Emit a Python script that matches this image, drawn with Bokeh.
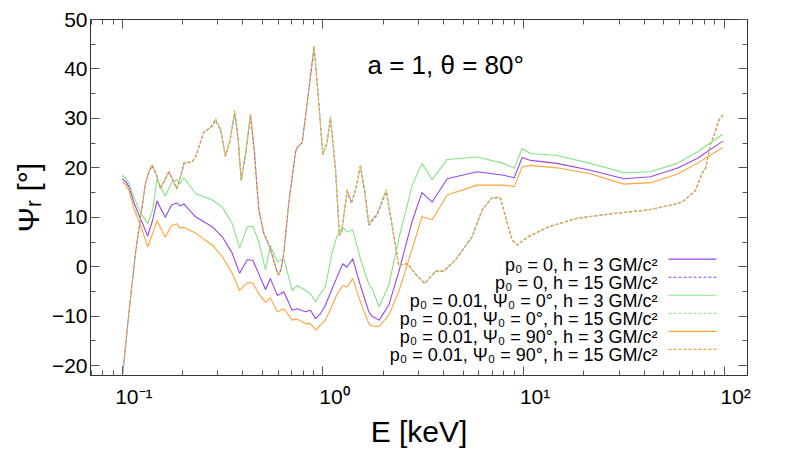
from bokeh.plotting import figure
from bokeh.models import Range1d, LogAxis, LinearAxis, FixedTicker, Label, CustomJSTickFormatter
from bokeh.embed import file_html
from bokeh.resources import INLINE

# ---------------- data ----------------
# h = 15 GM/c^2 curves (dashed), nearly identical for the three polarisation cases
E_h15 = [0.100, 0.104, 0.108, 0.1165, 0.123, 0.1306, 0.136, 0.141, 0.148, 0.155, 0.163, 0.171,
         0.179, 0.187, 0.195, 0.203, 0.223, 0.232, 0.255, 0.270, 0.282, 0.292, 0.310, 0.327,
         0.345, 0.364, 0.378, 0.392, 0.413, 0.436, 0.457, 0.470, 0.480, 0.508, 0.548, 0.581,
         0.600, 0.620, 0.640, 0.677, 0.731, 0.745, 0.789, 0.836, 0.905, 0.955, 1.000, 1.050,
         1.092, 1.157, 1.211, 1.240, 1.323, 1.390, 1.460, 1.540, 1.620, 1.695, 1.867, 2.070,
         2.200, 2.390, 2.640, 2.900, 3.220, 3.650, 4.010, 4.590, 5.560, 6.230, 6.990, 7.690,
         8.140, 8.790, 9.310, 10.60, 13.40, 18.50, 28.80, 42.20, 56.20, 62.00, 72.00, 77.80,
         81.00, 85.70, 89.00, 94.20, 98.60]
psi_p0_h15 = [-22.5, -16.0, -9.3, 2.8, 9.5, 16.8, 19.2, 20.4, 18.6, 15.8, 17.5, 19.1,
              17.5, 15.8, 18.0, 20.8, 21.2, 22.2, 27.2, 27.9, 28.5, 29.6, 27.5, 22.3,
              25.5, 31.0, 26.0, 17.4, 23.0, 30.5, 22.9, 16.0, 11.5, 6.8, 3.6, 0.0,
              -1.7, -0.5, 3.0, 13.0, 23.1, 24.1, 25.1, 33.1, 44.4, 33.1, 22.7, 25.0,
              30.0, 19.7, 6.3, 7.0, 15.2, 12.8, 15.5, 20.2, 15.0, 8.4, 10.5, 15.2,
              9.0, 0.3, 0.6, -1.5, -3.4, -0.9, -0.9, 1.4, 6.1, 11.5, 14.0, 13.8,
              10.1, 5.4, 4.4, 6.1, 8.1, 9.8, 10.8, 11.5, 12.6, 13.1, 15.4, 18.9,
              20.0, 24.9, 26.4, 29.6, 30.6]
psi_psi0_h15 = [-22.5, -16.0, -9.3, 2.8, 9.5, 16.8, 19.3, 20.5, 18.7, 15.8, 17.6, 19.2,
                17.6, 15.8, 18.1, 20.9, 21.2, 22.2, 27.2, 27.9, 28.6, 29.7, 27.6, 22.3,
                25.6, 31.2, 26.1, 17.5, 23.1, 30.7, 22.9, 16.0, 11.5, 6.8, 3.6, 0.0,
                -1.7, -0.5, 3.0, 13.0, 23.1, 24.1, 25.1, 33.1, 44.5, 33.1, 22.7, 25.1,
                30.1, 19.7, 6.3, 7.0, 15.4, 13.0, 15.7, 20.4, 15.2, 8.7, 10.7, 15.4,
                9.1, 0.3, 0.6, -1.5, -3.3, -0.9, -0.9, 1.4, 6.1, 11.5, 14.0, 13.8,
                10.1, 5.4, 4.4, 6.1, 8.1, 9.8, 10.8, 11.5, 12.6, 13.1, 15.4, 18.9,
                20.0, 24.9, 26.4, 29.6, 30.7]
psi_psi90_h15 = [-22.5, -16.0, -9.3, 2.8, 9.5, 16.8, 19.4, 20.7, 18.8, 15.8, 17.7, 19.4,
                 17.7, 15.8, 18.2, 21.1, 21.2, 22.2, 27.2, 27.9, 28.8, 30.0, 27.8, 22.3,
                 25.8, 31.6, 26.3, 17.5, 23.3, 31.0, 22.9, 16.0, 11.5, 6.8, 3.6, 0.0,
                 -1.7, -0.5, 3.0, 13.0, 23.1, 24.1, 25.1, 33.1, 44.7, 33.1, 22.7, 25.2,
                 30.3, 19.7, 6.3, 7.0, 15.6, 13.0, 15.8, 20.6, 15.3, 8.8, 10.8, 15.6,
                 9.2, 0.3, 0.6, -1.5, -3.3, -0.9, -0.9, 1.4, 6.1, 11.5, 14.0, 14.1,
                 10.1, 5.4, 4.4, 6.1, 8.1, 9.8, 10.8, 11.5, 12.6, 13.1, 15.4, 18.9,
                 20.0, 24.9, 26.4, 29.6, 30.8]

# h = 3 GM/c^2 curves (solid)
E_h3 = [0.100, 0.104, 0.108, 0.114, 0.124, 0.134, 0.142, 0.149, 0.164, 0.176, 0.187, 0.194,
        0.203, 0.232, 0.281, 0.315, 0.353, 0.385, 0.420, 0.448, 0.480, 0.518, 0.548, 0.593,
        0.640, 0.703, 0.745, 0.820, 0.868, 0.920, 0.974, 1.030, 1.114, 1.180, 1.258, 1.320,
        1.410, 1.540, 1.695, 1.760, 1.910, 2.130, 2.390, 2.790, 3.120, 3.510, 4.170, 5.880,
        7.980, 9.000, 9.860, 10.85, 14.70, 21.60, 31.70, 43.00, 58.40, 73.50, 98.60]
psi_p0_h3 = [17.8, 17.2, 16.2, 13.1, 9.5, 6.2, 9.5, 13.3, 10.0, 12.5, 12.9, 12.3,
             12.7, 10.1, 8.1, 6.1, 2.8, -1.3, 1.4, 1.3, -1.5, -4.6, -2.4, -5.8,
             -5.1, -8.8, -8.5, -9.1, -8.8, -10.5, -9.5, -7.8, -4.4, -2.0, 0.6, -0.1,
             1.6, -3.8, -9.1, -10.0, -10.8, -7.8, -1.1, 9.2, 15.0, 13.1, 17.8, 19.2,
             18.5, 18.0, 22.1, 21.5, 20.9, 19.5, 17.8, 18.2, 19.9, 21.9, 25.4]
psi_psi0_h3 = [18.5, 17.9, 16.8, 14.1, 10.8, 8.7, 11.5, 17.8, 14.3, 17.0, 17.6, 16.8,
               18.0, 14.8, 13.5, 12.1, 8.8, 3.8, 8.0, 8.2, 5.0, -0.6, 4.3, 1.0,
               1.6, -4.8, -3.8, -4.8, -5.5, -7.1, -5.4, -4.1, 3.0, 6.3, 8.0, 7.0,
               7.5, 1.6, -3.5, -4.4, -8.1, -3.8, 5.6, 16.4, 20.9, 17.6, 21.7, 22.2,
               20.9, 19.9, 23.9, 22.9, 22.5, 20.9, 19.0, 19.2, 20.9, 23.2, 26.8]
psi_psi90_h3 = [17.2, 16.6, 15.5, 12.0, 8.1, 4.0, 6.8, 9.3, 6.0, 8.3, 8.7, 7.8,
                8.0, 6.8, 4.4, 2.1, -1.3, -4.8, -3.2, -3.3, -5.5, -7.2, -6.3, -9.1,
                -8.5, -10.8, -10.6, -11.5, -11.5, -12.8, -11.8, -10.8, -7.8, -5.5, -3.8, -4.1,
                -2.4, -7.1, -11.5, -12.0, -12.1, -9.8, -5.1, 3.6, 10.1, 9.5, 14.5, 16.5,
                16.5, 16.2, 20.2, 20.5, 20.0, 18.8, 16.7, 17.0, 18.7, 20.9, 24.1]

legend_labels = ["p\u2080 = 0, h = 3 GM/c\u00b2",
                 "p\u2080 = 0, h = 15 GM/c\u00b2",
                 "p\u2080 = 0.01, \u03a8\u2080 = 0\u00b0, h = 3 GM/c\u00b2",
                 "p\u2080 = 0.01, \u03a8\u2080 = 0\u00b0, h = 15 GM/c\u00b2",
                 "p\u2080 = 0.01, \u03a8\u2080 = 90\u00b0, h = 3 GM/c\u00b2",
                 "p\u2080 = 0.01, \u03a8\u2080 = 90\u00b0, h = 15 GM/c\u00b2"]
x_ticks = [0.1, 1, 10, 100]
x_tick_labels = ["10\u207b\u00b9", "10\u2070", "10\u00b9", "10\u00b2"]
y_ticks = [-20, -10, 0, 10, 20, 30, 40, 50]
title_text = "a = 1, \u03b8 = 80\u00b0"
x_label = "E [keV]"
y_label = "\u03a8\u1d63 [\u00b0]"

PURPLE = "#9448e6"
GREEN = "#86e286"
ORANGE = "#ffa238"
FONT = "Liberation Sans"

# ---------------- geometry ----------------
W, H = 788, 450
BL, BT = 90, 19
FW, FH = 657, 358
BR, BB = W - BL - FW, H - BT - FH
LX0 = -1 - (121.7 - BL) / 200.6
LX1 = LX0 + FW / 200.6
YMIN, YMAX = -22, 50

# canvas pixel -> data coordinates (used only for annotation placement)
def sx(px):
    return 10 ** (LX0 + (px - BL) / FW * (LX1 - LX0))

def sy(py):
    return YMIN + (BT + FH - py) / FH * (YMAX - YMIN)

p = figure(width=W, height=H, x_axis_type="log",
           x_range=Range1d(10 ** LX0, 10 ** LX1), y_range=Range1d(YMIN, YMAX),
           output_backend="svg", toolbar_location=None,
           min_border_left=BL, min_border_right=BR, min_border_top=BT, min_border_bottom=BB)
p.grid.visible = False
p.outline_line_color = "#333333"
p.outline_line_width = 1
p.background_fill_color = "white"
p.border_fill_color = "white"

minor_x = [m * 10 ** e for e in range(-2, 3) for m in range(2, 10)]
xt = FixedTicker(ticks=x_ticks, minor_ticks=minor_x)
yt = FixedTicker(ticks=y_ticks, minor_ticks=[v + 5 for v in y_ticks])
empty = CustomJSTickFormatter(code="return ''")

def style_axis(ax):
    ax.major_tick_in = 9
    ax.major_tick_out = 0
    ax.minor_tick_in = 5
    ax.minor_tick_out = 0
    ax.major_tick_line_color = "#555555"
    ax.minor_tick_line_color = "#555555"
    ax.axis_line_color = "#333333"
    ax.axis_line_width = 1

xa = p.xaxis[0]
xa.ticker = xt
style_axis(xa)
NB = "\u00a0" * 4
xa.major_label_overrides = {t: NB + lab for t, lab in zip(x_ticks, x_tick_labels)}
xa.major_label_text_font = FONT
xa.major_label_text_font_size = "21px"
xa.major_label_text_color = "black"
xa.major_label_standoff = 9
xa.axis_label = x_label
xa.axis_label_text_font = FONT
xa.axis_label_text_font_size = "30px"
xa.axis_label_text_font_style = "normal"
xa.axis_label_text_color = "black"
xa.axis_label_standoff = 4

ya = p.yaxis[0]
ya.ticker = yt
style_axis(ya)
ya.major_label_text_font = FONT
ya.major_label_text_font_size = "21px"
ya.major_label_text_color = "black"
ya.major_label_standoff = 3
ya.axis_label = y_label
ya.axis_label_text_font = FONT
ya.axis_label_text_font_size = "30px"
ya.axis_label_text_font_style = "normal"
ya.axis_label_text_color = "black"
ya.axis_label_standoff = 4

top = LogAxis(ticker=xt, formatter=empty)
style_axis(top)
p.add_layout(top, "above")
right = LinearAxis(ticker=yt, formatter=empty)
style_axis(right)
p.add_layout(right, "right")

# ---------------- curves ----------------
series = [
    (E_h3, psi_p0_h3, PURPLE, "solid", 0),
    (E_h15, psi_p0_h15, PURPLE, "3 2", 0),
    (E_h3, psi_psi0_h3, GREEN, "solid", 0),
    (E_h15, psi_psi0_h15, GREEN, "3 2", 2),
    (E_h3, psi_psi90_h3, ORANGE, "solid", 0),
    (E_h15, psi_psi90_h15, ORANGE, "3 2", 3),
]
for xs, ys, col, dash, off in series:
    p.line(xs, ys, line_color=col, line_width=1.1, line_dash=dash, line_dash_offset=off,
           line_join="round")

# ---------------- legend (text left, key right, as in the reference) ----------------
for i, ((_, _, col, dash, _), lab) in enumerate(zip(series, legend_labels)):
    row_y = 260 + i * 18.15
    p.add_layout(Label(x=sx(657), y=sy(row_y + 5.5), text=lab, text_align="right",
                       text_baseline="alphabetic", text_font=FONT, text_font_size="18px",
                       text_color="black"))
    p.line([sx(668), sx(716)], [sy(row_y), sy(row_y)], line_color=col, line_width=1.1,
           line_dash=dash)

# ---------------- title inside the frame ----------------
p.add_layout(Label(x=sx(367), y=sy(64.3), text=title_text, text_align="left",
                   text_baseline="alphabetic", text_font=FONT, text_font_size="26px",
                   text_color="black"))

open("out.html", "w").write(file_html(p, INLINE))
